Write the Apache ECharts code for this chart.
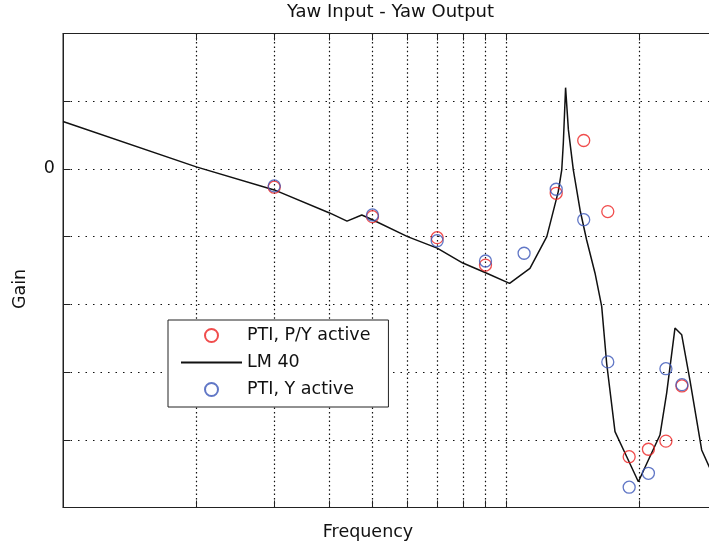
<!DOCTYPE html>
<html>
<head>
<meta charset="utf-8">
<title>Yaw Input - Yaw Output</title>
<script src="https://cdn.jsdelivr.net/npm/echarts@6/dist/echarts.min.js"></script>
<style>
  html, body { margin: 0; padding: 0; background: #fff; }
  #main { width: 709px; height: 548px; }
</style>
</head>
<body>
<div id="main"></div>
<script>
// LM 40 model curve (frequency, gain in dB)
const lmFreq = [1.0, 2.0, 3.0, 4.0, 4.38, 4.73, 5.0, 6.0, 7.0, 8.0, 9.06, 10.2, 11.34, 12.38, 13.14, 13.38, 13.49, 13.65,
    13.85, 14.21, 14.72, 15.23, 15.91, 16.47, 16.9, 17.65, 18.76, 19.93, 20.82, 22.3, 23.09, 24.11, 24.97, 26.06, 27.7, 28.82, 29.69];
const lmGain = [7.0, 0.3, -3.1, -6.5, -7.7, -6.8, -7.5, -10.0, -11.7, -13.9, -15.4, -16.9, -14.7, -10.0, -3.35, -0.15, 3.8, 12.0,
    5.8, -0.15, -6.1, -10.5, -15.4, -20.3, -28.7, -38.8, -42.5, -46.2, -43.5, -39.3, -33.1, -23.5, -24.5, -31.2, -41.5, -44.0, -45.6];

// PTI measurements, pitch/yaw active
const pyFreq = [3, 5, 7, 9, 13, 15, 17, 19, 21, 23, 25];
const pyGain = [-2.7, -7.05, -10.15, -14.2, -3.6, 4.2, -6.3, -42.5, -41.4, -40.2, -32.05];

// PTI measurements, yaw active
const yFreq = [3, 5, 7, 9, 11, 13, 15, 17, 19, 21, 23, 25];
const yGain = [-2.5, -6.8, -10.6, -13.6, -12.45, -3.0, -7.5, -28.5, -47.0, -44.95, -29.5, -31.85];

const xGridTicks = [2, 3, 4, 5, 6, 7, 8, 9, 10, 20];

const font = 'DejaVu Sans';
const chart = echarts.init(document.getElementById('main'));

const pair = (xs, ys) => xs.map((x, i) => [x, ys[i]]);

const option = {
    animation: false,
    backgroundColor: '#fff',
    title: {
        text: 'Yaw Input - Yaw Output',
        left: 287,
        top: 3,
        padding: 0,
        textStyle: { fontFamily: font, fontSize: 18, fontWeight: 'normal', color: '#111' }
    },
    legend: {
        left: 168,
        top: 320,
        orient: 'vertical',
        itemWidth: 61,
        itemHeight: 13,
        itemGap: 9,
        padding: [6.5, 18, 8.5, 12],
        borderColor: '#222',
        borderWidth: 1,
        backgroundColor: '#fff',
        textStyle: { fontFamily: font, fontSize: 17.5, color: '#111' },
        data: ['PTI, P/Y active', 'LM 40', 'PTI, Y active']
    },
    grid: {
        left: 63,
        top: 33.5,
        width: 654,
        height: 474,
        outerBoundsMode: 'none',
        show: true,
        borderColor: '#222',
        borderWidth: 1
    },
    xAxis: [{
        type: 'log',
        logBase: 10,
        min: 1,
        max: 30,
        name: 'Frequency',
        nameLocation: 'middle',
        nameGap: 16,
        nameTextStyle: { fontFamily: font, fontSize: 17.5, color: '#111', padding: [0, 44, 0, 0] },
        axisLine: { show: true, onZero: false, lineStyle: { color: '#222', width: 1 } },
        axisTick: { show: true, inside: true, length: 7, customValues: xGridTicks, lineStyle: { color: '#222' } },
        axisLabel: { show: false },
        splitLine: { show: true, lineStyle: { color: '#111', width: 1.2, type: [1.5, 2.8] } },
        minorTick: { show: false },
        minorSplitLine: { show: false }
    }, {
        type: 'log',
        logBase: 10,
        min: 1,
        max: 30,
        position: 'top',
        axisLine: { show: true, onZero: false, lineStyle: { color: '#222', width: 1 } },
        axisTick: { show: true, inside: true, length: 7, customValues: xGridTicks, lineStyle: { color: '#222' } },
        axisLabel: { show: false },
        splitLine: { show: false }
    }],
    yAxis: {
        type: 'value',
        min: -50,
        max: 20,
        interval: 10,
        name: 'Gain',
        nameLocation: 'middle',
        nameGap: 34,
        nameTextStyle: { fontFamily: font, fontSize: 17.5, color: '#111', padding: [0, 37, 0, 0] },
        axisLine: { show: true, lineStyle: { color: '#222', width: 1 } },
        axisTick: { show: true, inside: true, length: 7, lineStyle: { color: '#222' } },
        axisLabel: {
            margin: 8,
            fontFamily: font,
            fontSize: 17.5,
            color: '#111',
            formatter: v => (v === 0 ? '0' : '')
        },
        splitLine: { show: true, lineStyle: { color: '#111', width: 1.2, type: [1.5, 6] } }
    },
    series: [{
        name: 'PTI, P/Y active',
        type: 'scatter',
        symbol: 'circle',
        symbolSize: 12,
        itemStyle: { color: 'rgba(0,0,0,0)', borderColor: '#ec2020', borderWidth: 1.3 },
        data: pair(pyFreq, pyGain),
        z: 4
    }, {
        name: 'LM 40',
        type: 'line',
        symbol: 'none',
        lineStyle: { color: '#111', width: 1.5 },
        itemStyle: { color: 'rgba(0,0,0,0)' },
        data: pair(lmFreq, lmGain),
        z: 3
    }, {
        name: 'PTI, Y active',
        type: 'scatter',
        symbol: 'circle',
        symbolSize: 12,
        itemStyle: { color: 'rgba(0,0,0,0)', borderColor: '#3a55b8', borderWidth: 1.3 },
        data: pair(yFreq, yGain),
        z: 4
    }]
};

chart.setOption(option);
</script>
</body>
</html>
